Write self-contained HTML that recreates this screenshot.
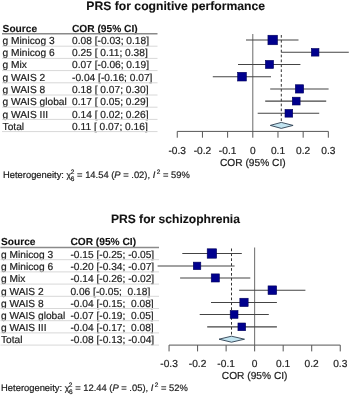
<!DOCTYPE html>
<html><head><meta charset="utf-8"><style>
html,body{margin:0;padding:0;background:#fff;}
svg{display:block;will-change:transform;text-rendering:geometricPrecision;font-family:"Liberation Sans",sans-serif;}
text{stroke:currentColor;} text{stroke:#222;stroke-width:0.2px;} text[font-weight="bold"]{stroke-width:0.1px;}
</style></head><body>
<svg width="350" height="395" viewBox="0 0 350 395">
<rect width="350" height="395" fill="#fff"/>
<text x="175.70" y="10.00" font-size="12.2" font-weight="bold" text-anchor="middle" fill="#111" >PRS for cognitive performance</text>
<text x="2.60" y="32.00" font-size="10.2" font-weight="bold" text-anchor="start" fill="#111" >Source</text>
<text x="72.00" y="32.00" font-size="10.2" font-weight="bold" text-anchor="start" fill="#111" >COR (95% CI)</text>
<line x1="2.00" y1="33.70" x2="157.50" y2="33.70" stroke="#8a8a8a" stroke-width="1.5" />
<text x="2.60" y="44.00" font-size="10.2" font-weight="normal" text-anchor="start" fill="#222" >g Minicog 3</text>
<text x="72.00" y="44.00" font-size="10.2" font-weight="normal" text-anchor="start" fill="#222" >0.08 [-0.03; 0.18]</text>
<line x1="2.00" y1="46.20" x2="157.50" y2="46.20" stroke="#d8d8d8" stroke-width="1" />
<text x="2.60" y="56.00" font-size="10.2" font-weight="normal" text-anchor="start" fill="#222" >g Minicog 6</text>
<text x="72.00" y="56.00" font-size="10.2" font-weight="normal" text-anchor="start" fill="#222" >0.25 [ 0.11; 0.38]</text>
<line x1="2.00" y1="58.40" x2="157.50" y2="58.40" stroke="#d8d8d8" stroke-width="1" />
<text x="2.60" y="68.00" font-size="10.2" font-weight="normal" text-anchor="start" fill="#222" >g Mix</text>
<text x="72.00" y="68.00" font-size="10.2" font-weight="normal" text-anchor="start" fill="#222" >0.07 [-0.06; 0.19]</text>
<line x1="2.00" y1="70.60" x2="157.50" y2="70.60" stroke="#d8d8d8" stroke-width="1" />
<text x="2.60" y="81.00" font-size="10.2" font-weight="normal" text-anchor="start" fill="#222" >g WAIS 2</text>
<text x="72.00" y="81.00" font-size="10.2" font-weight="normal" text-anchor="start" fill="#222" >-0.04 [-0.16; 0.07]</text>
<line x1="2.00" y1="82.80" x2="157.50" y2="82.80" stroke="#d8d8d8" stroke-width="1" />
<text x="2.60" y="93.00" font-size="10.2" font-weight="normal" text-anchor="start" fill="#222" >g WAIS 8</text>
<text x="72.00" y="93.00" font-size="10.2" font-weight="normal" text-anchor="start" fill="#222" >0.18 [ 0.07; 0.30]</text>
<line x1="2.00" y1="95.00" x2="157.50" y2="95.00" stroke="#d8d8d8" stroke-width="1" />
<text x="2.60" y="105.00" font-size="10.2" font-weight="normal" text-anchor="start" fill="#222" >g WAIS global</text>
<text x="72.00" y="105.00" font-size="10.2" font-weight="normal" text-anchor="start" fill="#222" >0.17 [ 0.05; 0.29]</text>
<line x1="2.00" y1="107.20" x2="157.50" y2="107.20" stroke="#d8d8d8" stroke-width="1" />
<text x="2.60" y="118.00" font-size="10.2" font-weight="normal" text-anchor="start" fill="#222" >g WAIS III</text>
<text x="72.00" y="118.00" font-size="10.2" font-weight="normal" text-anchor="start" fill="#222" >0.14 [ 0.02; 0.26]</text>
<line x1="2.00" y1="119.40" x2="157.50" y2="119.40" stroke="#d8d8d8" stroke-width="1" />
<text x="2.60" y="130.00" font-size="10.2" font-weight="normal" text-anchor="start" fill="#222" >Total</text>
<text x="72.00" y="130.00" font-size="10.2" font-weight="normal" text-anchor="start" fill="#222" >0.11 [ 0.07; 0.16]</text>
<line x1="2.00" y1="131.60" x2="157.50" y2="131.60" stroke="#d8d8d8" stroke-width="1" />
<line x1="252.80" y1="34.00" x2="252.80" y2="131.40" stroke="#6a6a6a" stroke-width="1" />
<line x1="281.30" y1="35.00" x2="281.30" y2="122.40" stroke="#333" stroke-width="1.0" stroke-dasharray="2.7,2.2"/>
<line x1="246.00" y1="40.00" x2="298.50" y2="40.00" stroke="#444" stroke-width="1.05" />
<rect x="267.95" y="35.25" width="9.50" height="9.50" fill="#00008e" stroke="#00005a" stroke-width="0.6"/>
<line x1="281.30" y1="52.30" x2="348.80" y2="52.30" stroke="#444" stroke-width="1.05" />
<rect x="311.35" y="48.50" width="7.60" height="7.60" fill="#00008e" stroke="#00005a" stroke-width="0.6"/>
<line x1="238.00" y1="64.45" x2="300.40" y2="64.45" stroke="#444" stroke-width="1.05" />
<rect x="265.45" y="60.40" width="8.10" height="8.10" fill="#00008e" stroke="#00005a" stroke-width="0.6"/>
<line x1="212.80" y1="76.65" x2="271.00" y2="76.65" stroke="#444" stroke-width="1.05" />
<rect x="237.65" y="72.30" width="8.70" height="8.70" fill="#00008e" stroke="#00005a" stroke-width="0.6"/>
<line x1="270.20" y1="88.90" x2="328.60" y2="88.90" stroke="#444" stroke-width="1.05" />
<rect x="295.35" y="84.75" width="8.30" height="8.30" fill="#00008e" stroke="#00005a" stroke-width="0.6"/>
<line x1="265.20" y1="101.10" x2="326.20" y2="101.10" stroke="#444" stroke-width="1.05" />
<rect x="292.30" y="97.20" width="7.80" height="7.80" fill="#00008e" stroke="#00005a" stroke-width="0.6"/>
<line x1="257.70" y1="113.30" x2="319.20" y2="113.30" stroke="#444" stroke-width="1.05" />
<rect x="285.00" y="109.45" width="7.70" height="7.70" fill="#00008e" stroke="#00005a" stroke-width="0.6"/>
<polygon points="270.30,125.40 281.30,122.40 293.10,125.40 281.30,128.40" fill="#c2e4f0" stroke="#2c3e50" stroke-width="0.9"/>
<line x1="177.26" y1="131.40" x2="328.34" y2="131.40" stroke="#555" stroke-width="1" />
<line x1="177.26" y1="131.40" x2="177.26" y2="137.70" stroke="#555" stroke-width="1" />
<text x="177.26" y="154.00" font-size="10.2" font-weight="normal" text-anchor="middle" fill="#222" >-0.3</text>
<line x1="202.44" y1="131.40" x2="202.44" y2="137.70" stroke="#555" stroke-width="1" />
<text x="202.44" y="154.00" font-size="10.2" font-weight="normal" text-anchor="middle" fill="#222" >-0.2</text>
<line x1="227.62" y1="131.40" x2="227.62" y2="137.70" stroke="#555" stroke-width="1" />
<text x="227.62" y="154.00" font-size="10.2" font-weight="normal" text-anchor="middle" fill="#222" >-0.1</text>
<line x1="252.80" y1="131.40" x2="252.80" y2="137.70" stroke="#555" stroke-width="1" />
<text x="252.80" y="154.00" font-size="10.2" font-weight="normal" text-anchor="middle" fill="#222" >0</text>
<line x1="277.98" y1="131.40" x2="277.98" y2="137.70" stroke="#555" stroke-width="1" />
<text x="277.98" y="154.00" font-size="10.2" font-weight="normal" text-anchor="middle" fill="#222" >0.1</text>
<line x1="303.16" y1="131.40" x2="303.16" y2="137.70" stroke="#555" stroke-width="1" />
<text x="303.16" y="154.00" font-size="10.2" font-weight="normal" text-anchor="middle" fill="#222" >0.2</text>
<line x1="328.34" y1="131.40" x2="328.34" y2="137.70" stroke="#555" stroke-width="1" />
<text x="328.34" y="154.00" font-size="10.2" font-weight="normal" text-anchor="middle" fill="#222" >0.3</text>
<text x="252.80" y="166.00" font-size="10.2" font-weight="normal" text-anchor="middle" fill="#222" >COR (95% CI)</text>
<text x="3.00" y="178" font-size="9.4" fill="#1a1a1a">Heterogeneity: <tspan font-size="8.6">χ</tspan><tspan font-size="6.5" dx="-0.4" dy="-4.4">2</tspan><tspan font-size="6.5" dx="-3.5" dy="6.9">6</tspan><tspan dy="-2.5"> = 14.54 (</tspan><tspan font-style="italic">P</tspan><tspan> = .02), </tspan><tspan font-style="italic">I</tspan><tspan font-size="6.5" dx="1.5" dy="-4.4">2</tspan><tspan dx="-0.1" dy="4.4"> = 59%</tspan></text>
<text x="175.40" y="223.00" font-size="12.1" font-weight="bold" text-anchor="middle" fill="#111" >PRS for schizophrenia</text>
<text x="1.00" y="245.00" font-size="10.2" font-weight="bold" text-anchor="start" fill="#111" >Source</text>
<text x="70.40" y="245.00" font-size="10.2" font-weight="bold" text-anchor="start" fill="#111" >COR (95% CI)</text>
<line x1="0.40" y1="247.50" x2="159.00" y2="247.50" stroke="#8a8a8a" stroke-width="1.5" />
<text x="1.00" y="258.00" font-size="10.2" font-weight="normal" text-anchor="start" fill="#222" >g Minicog 3</text>
<text x="70.40" y="258.00" font-size="10.2" font-weight="normal" text-anchor="start" fill="#222" >-0.15 [-0.25; -0.05]</text>
<line x1="0.40" y1="259.70" x2="159.00" y2="259.70" stroke="#d8d8d8" stroke-width="1" />
<text x="1.00" y="270.00" font-size="10.2" font-weight="normal" text-anchor="start" fill="#222" >g Minicog 6</text>
<text x="70.40" y="270.00" font-size="10.2" font-weight="normal" text-anchor="start" fill="#222" >-0.20 [-0.34; -0.07]</text>
<line x1="0.40" y1="271.90" x2="159.00" y2="271.90" stroke="#d8d8d8" stroke-width="1" />
<text x="1.00" y="282.00" font-size="10.2" font-weight="normal" text-anchor="start" fill="#222" >g Mix</text>
<text x="70.40" y="282.00" font-size="10.2" font-weight="normal" text-anchor="start" fill="#222" >-0.14 [-0.26; -0.02]</text>
<line x1="0.40" y1="284.10" x2="159.00" y2="284.10" stroke="#d8d8d8" stroke-width="1" />
<text x="1.00" y="295.00" font-size="10.2" font-weight="normal" text-anchor="start" fill="#222" >g WAIS 2</text>
<text x="70.40" y="295.00" font-size="10.2" font-weight="normal" text-anchor="start" fill="#222" >0.06 [-0.05;  0.18]</text>
<line x1="0.40" y1="296.30" x2="159.00" y2="296.30" stroke="#d8d8d8" stroke-width="1" />
<text x="1.00" y="307.00" font-size="10.2" font-weight="normal" text-anchor="start" fill="#222" >g WAIS 8</text>
<text x="70.40" y="307.00" font-size="10.2" font-weight="normal" text-anchor="start" fill="#222" >-0.04 [-0.15;  0.08]</text>
<line x1="0.40" y1="308.50" x2="159.00" y2="308.50" stroke="#d8d8d8" stroke-width="1" />
<text x="1.00" y="319.00" font-size="10.2" font-weight="normal" text-anchor="start" fill="#222" >g WAIS global</text>
<text x="70.40" y="319.00" font-size="10.2" font-weight="normal" text-anchor="start" fill="#222" >-0.07 [-0.19;  0.05]</text>
<line x1="0.40" y1="320.70" x2="159.00" y2="320.70" stroke="#d8d8d8" stroke-width="1" />
<text x="1.00" y="331.00" font-size="10.2" font-weight="normal" text-anchor="start" fill="#222" >g WAIS III</text>
<text x="70.40" y="331.00" font-size="10.2" font-weight="normal" text-anchor="start" fill="#222" >-0.04 [-0.17;  0.08]</text>
<line x1="0.40" y1="332.90" x2="159.00" y2="332.90" stroke="#d8d8d8" stroke-width="1" />
<text x="1.00" y="343.00" font-size="10.2" font-weight="normal" text-anchor="start" fill="#222" >Total</text>
<text x="70.40" y="343.00" font-size="10.2" font-weight="normal" text-anchor="start" fill="#222" >-0.08 [-0.13; -0.04]</text>
<line x1="0.40" y1="345.10" x2="159.00" y2="345.10" stroke="#d8d8d8" stroke-width="1" />
<line x1="254.65" y1="247.50" x2="254.65" y2="345.10" stroke="#6a6a6a" stroke-width="1" />
<line x1="231.50" y1="248.50" x2="231.50" y2="336.20" stroke="#333" stroke-width="1.0" stroke-dasharray="2.7,2.2"/>
<line x1="182.30" y1="253.50" x2="241.80" y2="253.50" stroke="#444" stroke-width="1.05" />
<rect x="207.20" y="248.80" width="9.40" height="9.40" fill="#00008e" stroke="#00005a" stroke-width="0.6"/>
<line x1="157.60" y1="265.90" x2="234.60" y2="265.90" stroke="#444" stroke-width="1.05" />
<rect x="193.30" y="262.15" width="7.50" height="7.50" fill="#00008e" stroke="#00005a" stroke-width="0.6"/>
<line x1="180.10" y1="277.95" x2="250.30" y2="277.95" stroke="#444" stroke-width="1.05" />
<rect x="211.25" y="273.90" width="8.10" height="8.10" fill="#00008e" stroke="#00005a" stroke-width="0.6"/>
<line x1="239.10" y1="290.20" x2="305.40" y2="290.20" stroke="#444" stroke-width="1.05" />
<rect x="268.05" y="285.90" width="8.60" height="8.60" fill="#00008e" stroke="#00005a" stroke-width="0.6"/>
<line x1="211.00" y1="302.40" x2="276.90" y2="302.40" stroke="#444" stroke-width="1.05" />
<rect x="239.85" y="298.25" width="8.30" height="8.30" fill="#00008e" stroke="#00005a" stroke-width="0.6"/>
<line x1="199.70" y1="314.45" x2="268.80" y2="314.45" stroke="#444" stroke-width="1.05" />
<rect x="230.20" y="310.55" width="7.80" height="7.80" fill="#00008e" stroke="#00005a" stroke-width="0.6"/>
<line x1="207.20" y1="326.85" x2="276.90" y2="326.85" stroke="#444" stroke-width="1.05" />
<rect x="237.95" y="323.00" width="7.70" height="7.70" fill="#00008e" stroke="#00005a" stroke-width="0.6"/>
<polygon points="219.00,339.20 231.50,336.20 244.50,339.20 231.50,342.20" fill="#c2e4f0" stroke="#2c3e50" stroke-width="0.9"/>
<line x1="169.06" y1="345.10" x2="340.24" y2="345.10" stroke="#555" stroke-width="1" />
<line x1="169.06" y1="345.10" x2="169.06" y2="351.40" stroke="#555" stroke-width="1" />
<text x="169.06" y="367.00" font-size="10.2" font-weight="normal" text-anchor="middle" fill="#222" >-0.3</text>
<line x1="197.59" y1="345.10" x2="197.59" y2="351.40" stroke="#555" stroke-width="1" />
<text x="197.59" y="367.00" font-size="10.2" font-weight="normal" text-anchor="middle" fill="#222" >-0.2</text>
<line x1="226.12" y1="345.10" x2="226.12" y2="351.40" stroke="#555" stroke-width="1" />
<text x="226.12" y="367.00" font-size="10.2" font-weight="normal" text-anchor="middle" fill="#222" >-0.1</text>
<line x1="254.65" y1="345.10" x2="254.65" y2="351.40" stroke="#555" stroke-width="1" />
<text x="254.65" y="367.00" font-size="10.2" font-weight="normal" text-anchor="middle" fill="#222" >0</text>
<line x1="283.18" y1="345.10" x2="283.18" y2="351.40" stroke="#555" stroke-width="1" />
<text x="283.18" y="367.00" font-size="10.2" font-weight="normal" text-anchor="middle" fill="#222" >0.1</text>
<line x1="311.71" y1="345.10" x2="311.71" y2="351.40" stroke="#555" stroke-width="1" />
<text x="311.71" y="367.00" font-size="10.2" font-weight="normal" text-anchor="middle" fill="#222" >0.2</text>
<line x1="340.24" y1="345.10" x2="340.24" y2="351.40" stroke="#555" stroke-width="1" />
<text x="340.24" y="367.00" font-size="10.2" font-weight="normal" text-anchor="middle" fill="#222" >0.3</text>
<text x="254.65" y="379.00" font-size="10.2" font-weight="normal" text-anchor="middle" fill="#222" >COR (95% CI)</text>
<text x="1.10" y="391" font-size="9.4" fill="#1a1a1a">Heterogeneity: <tspan font-size="8.6">χ</tspan><tspan font-size="6.5" dx="-0.4" dy="-4.4">2</tspan><tspan font-size="6.5" dx="-3.5" dy="6.9">6</tspan><tspan dy="-2.5"> = 12.44 (</tspan><tspan font-style="italic">P</tspan><tspan> = .05), </tspan><tspan font-style="italic">I</tspan><tspan font-size="6.5" dx="1.5" dy="-4.4">2</tspan><tspan dx="-0.1" dy="4.4"> = 52%</tspan></text>
</svg></body></html>
